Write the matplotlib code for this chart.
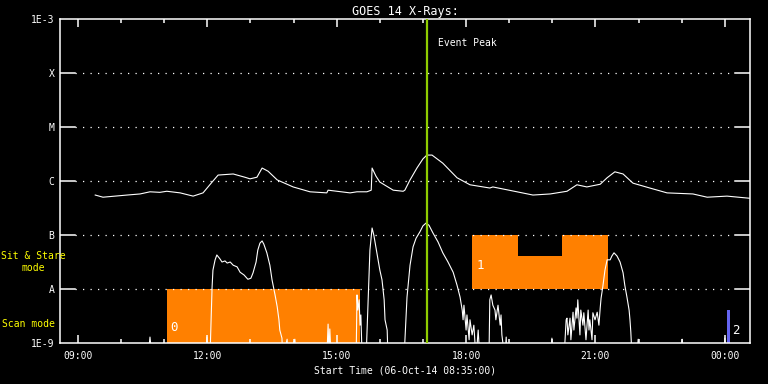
import matplotlib
matplotlib.use("Agg")
import matplotlib.pyplot as plt
import numpy as np
from matplotlib.ticker import FixedLocator, NullFormatter

# ---- data (time in hours since 00:00 of 06-Oct-14; flux as log10 W/m^2) ----
long_t = [9.40, 9.58, 9.86, 10.14, 10.44, 10.67, 10.90, 11.06, 11.37, 11.67, 11.90,
          12.11, 12.25, 12.60, 12.87, 12.99, 13.15, 13.27, 13.41, 13.62, 13.99,
          14.38, 14.77, 14.80, 15.31, 15.47, 15.70, 15.80, 15.82, 15.91, 16.00,
          16.31, 16.54, 16.58, 16.70, 16.86, 17.00, 17.09, 17.21, 17.46, 17.79,
          18.09, 18.55, 18.62, 19.18, 19.55, 19.95, 20.34, 20.57, 20.80, 21.11,
          21.27, 21.45, 21.64, 21.87, 22.26, 22.66, 23.26, 23.59, 24.05, 24.58]
long_log = [-6.26, -6.30, -6.28, -6.26, -6.24, -6.20, -6.21, -6.19, -6.22, -6.28, -6.22,
            -6.02, -5.89, -5.87, -5.93, -5.96, -5.93, -5.76, -5.82, -5.98, -6.11,
            -6.20, -6.22, -6.17, -6.22, -6.20, -6.20, -6.17, -5.76, -5.91, -6.02,
            -6.17, -6.19, -6.17, -5.98, -5.76, -5.59, -5.52, -5.52, -5.67, -5.94,
            -6.07, -6.13, -6.11, -6.20, -6.26, -6.24, -6.19, -6.07, -6.11, -6.06,
            -5.94, -5.83, -5.87, -6.04, -6.13, -6.22, -6.24, -6.30, -6.28, -6.32]

short_t = [9.40, 10.62, 10.67, 10.72, 11.97, 11.99, 12.02, 12.06, 12.08, 12.11, 12.13,
           12.18, 12.22, 12.29, 12.34, 12.41, 12.46, 12.53, 12.60, 12.69, 12.76, 12.85,
           12.94, 13.01, 13.06, 13.13, 13.17, 13.22, 13.27, 13.31, 13.38, 13.45, 13.50,
           13.57, 13.62, 13.66, 13.68, 13.73, 13.75, 13.85, 13.87, 14.03, 14.06, 14.77,
           14.80, 14.82, 14.84, 14.87, 15.45, 15.47, 15.49, 15.52, 15.54, 15.56, 15.59,
           15.68, 15.73, 15.77, 15.82, 15.86, 15.93, 16.00, 16.05, 16.10, 16.12, 16.17,
           16.19, 16.56, 16.63, 16.70, 16.77, 16.84, 16.93, 17.00, 17.07, 17.14, 17.23,
           17.35, 17.46, 17.58, 17.70, 17.79, 17.86, 17.91, 17.93, 17.95, 18.00, 18.02,
           18.07, 18.09, 18.14, 18.18, 18.23, 18.28, 18.32, 18.53, 18.55, 18.58, 18.62,
           18.67, 18.69, 18.74, 18.79, 18.81, 18.83, 18.90, 18.93, 18.95, 19.97, 19.99,
           20.02, 20.27, 20.32, 20.34, 20.36, 20.41, 20.43, 20.48, 20.50, 20.55, 20.57,
           20.59, 20.64, 20.66, 20.71, 20.73, 20.78, 20.83, 20.85, 20.87, 20.92, 20.94,
           20.99, 21.04, 21.08, 21.11, 21.13, 21.17, 21.22, 21.27, 21.34, 21.38, 21.43,
           21.50, 21.57, 21.64, 21.68, 21.73, 21.78, 21.80, 21.82, 21.85, 21.96, 21.99,
           22.01, 22.98, 23.01, 23.03, 23.98, 24.00, 24.03, 24.58]
short_log = [-9.3, -9.3, -8.89, -9.3, -9.3, -8.89, -9.3, -9.3, -8.76, -7.96, -7.65,
             -7.46, -7.37, -7.44, -7.50, -7.48, -7.52, -7.50, -7.56, -7.59, -7.69, -7.74,
             -7.82, -7.80, -7.70, -7.50, -7.28, -7.15, -7.11, -7.17, -7.33, -7.56, -7.83,
             -8.11, -8.33, -8.57, -8.76, -8.91, -9.3, -8.93, -9.3, -8.93, -9.3, -9.3,
             -8.65, -9.2, -8.74, -9.3, -9.3, -8.11, -8.39, -8.20, -8.67, -8.48, -9.3,
             -9.3, -8.20, -7.28, -6.87, -7.00, -7.33, -7.65, -7.83, -8.20, -8.57, -8.76,
             -9.3, -9.3, -8.15, -7.56, -7.22, -7.06, -6.94, -6.83, -6.78, -6.82, -6.96,
             -7.13, -7.33, -7.50, -7.69, -7.93, -8.15, -8.39, -8.57, -8.30, -8.76, -8.48,
             -8.94, -8.57, -8.85, -8.67, -9.3, -8.76, -9.3, -9.3, -8.20, -8.11, -8.30,
             -8.39, -8.57, -8.30, -8.67, -8.48, -8.85, -9.3, -8.89, -9.3, -9.3, -8.91,
             -9.3, -9.3, -8.57, -8.54, -8.85, -8.54, -8.94, -8.43, -8.76, -8.35, -8.54,
             -8.20, -8.85, -8.39, -8.67, -8.44, -8.94, -8.39, -8.76, -8.57, -8.94, -8.44,
             -8.57, -8.43, -8.67, -8.35, -8.17, -7.96, -7.65, -7.46, -7.46, -7.39, -7.33,
             -7.39, -7.50, -7.70, -7.93, -8.15, -8.39, -8.57, -8.80, -9.3, -9.3, -8.93,
             -9.3, -9.3, -8.93, -9.3, -9.3, -8.91, -9.3, -9.3]

# observation blocks (start hour, end hour, lower flux, upper flux)
block_start = [11.06, 18.14, 19.20, 20.22, 24.05]
block_end = [15.55, 19.20, 20.22, 21.30, 24.12]
block_low = [1e-9, 1e-8, 1e-8, 1e-8, 1e-9]
block_high = [1e-8, 1e-7, 4.1e-8, 1e-7, 4.1e-9]
block_color = ["#ff8000", "#ff8000", "#ff8000", "#ff8000", "#6464f0"]
block_labels = ["0", "1", "2"]
block_label_t = [11.14, 18.24, 24.16]
block_label_y = [1.45e-9, 2.1e-8, 1.3e-9]

event_peak = 17.09
t_start, t_end = 8 + 35 / 60, 24 + 35 / 60

level_vals = [1e-9, 1e-8, 1e-7, 1e-6, 1e-5, 1e-4, 1e-3]
level_labels = ["1E-9", "A", "B", "C", "M", "X", "1E-3"]
xtick_hours = [9, 12, 15, 18, 21, 24]
xtick_labels = ["09:00", "12:00", "15:00", "18:00", "21:00", "00:00"]

plt.rcParams["font.family"] = ["DejaVu Sans Mono", "DejaVu Sans"]

# ---- figure ----
fig = plt.figure(figsize=(7.68, 3.84), dpi=100, facecolor="black")
ax = fig.add_axes([60 / 768, 1 - 343 / 384, 690 / 768, 324 / 384])
ax.set_facecolor("black")
ax.set_yscale("log")
ax.set_xlim(t_start, t_end)
ax.set_ylim(1e-9, 1e-3)

fs = 7
for s, e, lo, hi, c in zip(block_start, block_end, block_low, block_high, block_color):
    ax.bar(s, hi - lo, width=e - s, bottom=lo, align="edge", color=c, linewidth=0, zorder=1)
for lab, t, y in zip(block_labels, block_label_t, block_label_y):
    ax.text(t, y, lab, color="white", fontsize=9, ha="left", va="bottom", zorder=5)

# grid lines (dotted) between the solid tick stubs
for v in level_vals[1:-1]:
    ax.axhline(v, xmin=15 / 690, xmax=1 - 15 / 690, color="white", lw=0.9,
               linestyle=(0, (1, 5)), zorder=2)
    ax.axhline(v, xmin=0, xmax=15 / 690, color="white", lw=1.1, zorder=2)
    ax.axhline(v, xmin=1 - 15 / 690, xmax=1, color="white", lw=1.1, zorder=2)

ax.plot(long_t, 10 ** np.array(long_log), color="white", lw=0.8, zorder=3)
ax.plot(short_t, 10 ** np.array(short_log), color="white", lw=0.8, zorder=3)

ax.axvline(event_peak, color="#8fcc00", lw=1.6, zorder=4)
ax.text(event_peak + 0.25, 10 ** -3.45, "Event Peak", color="white", fontsize=fs,
        ha="left", va="center")

for sp in ax.spines.values():
    sp.set_color("white")
    sp.set_linewidth(1.1)

ax.yaxis.set_major_locator(FixedLocator(level_vals))
ax.set_yticklabels(level_labels)
ax.yaxis.set_minor_locator(FixedLocator([]))
ax.tick_params(axis="y", which="major", length=0, colors="white", labelsize=fs, pad=4)

ax.xaxis.set_major_locator(FixedLocator(xtick_hours))
ax.set_xticklabels(xtick_labels)
ax.xaxis.set_minor_locator(FixedLocator([h for h in range(9, 25) if h % 3 != 0]))
ax.xaxis.set_minor_formatter(NullFormatter())
ax.tick_params(axis="x", which="major", direction="in", length=6, width=1.1,
               colors="white", labelsize=fs, pad=6, top=True)
ax.tick_params(axis="x", which="minor", direction="in", length=3, width=1.1,
               colors="white", top=True)

ax.set_title("GOES 14 X-Rays:", color="white", fontsize=8.5, pad=3)
ax.set_xlabel("Start Time (06-Oct-14 08:35:00)", color="white", fontsize=fs, labelpad=3)

fig.text(33 / 768, 1 - 262 / 384, "Sit & Stare\nmode", color="yellow", fontsize=fs,
         ha="center", va="center", linespacing=1.3)
fig.text(28 / 768, 1 - 324 / 384, "Scan mode", color="yellow", fontsize=fs,
         ha="center", va="center")

fig.savefig("out.png", dpi=100, facecolor="black")
